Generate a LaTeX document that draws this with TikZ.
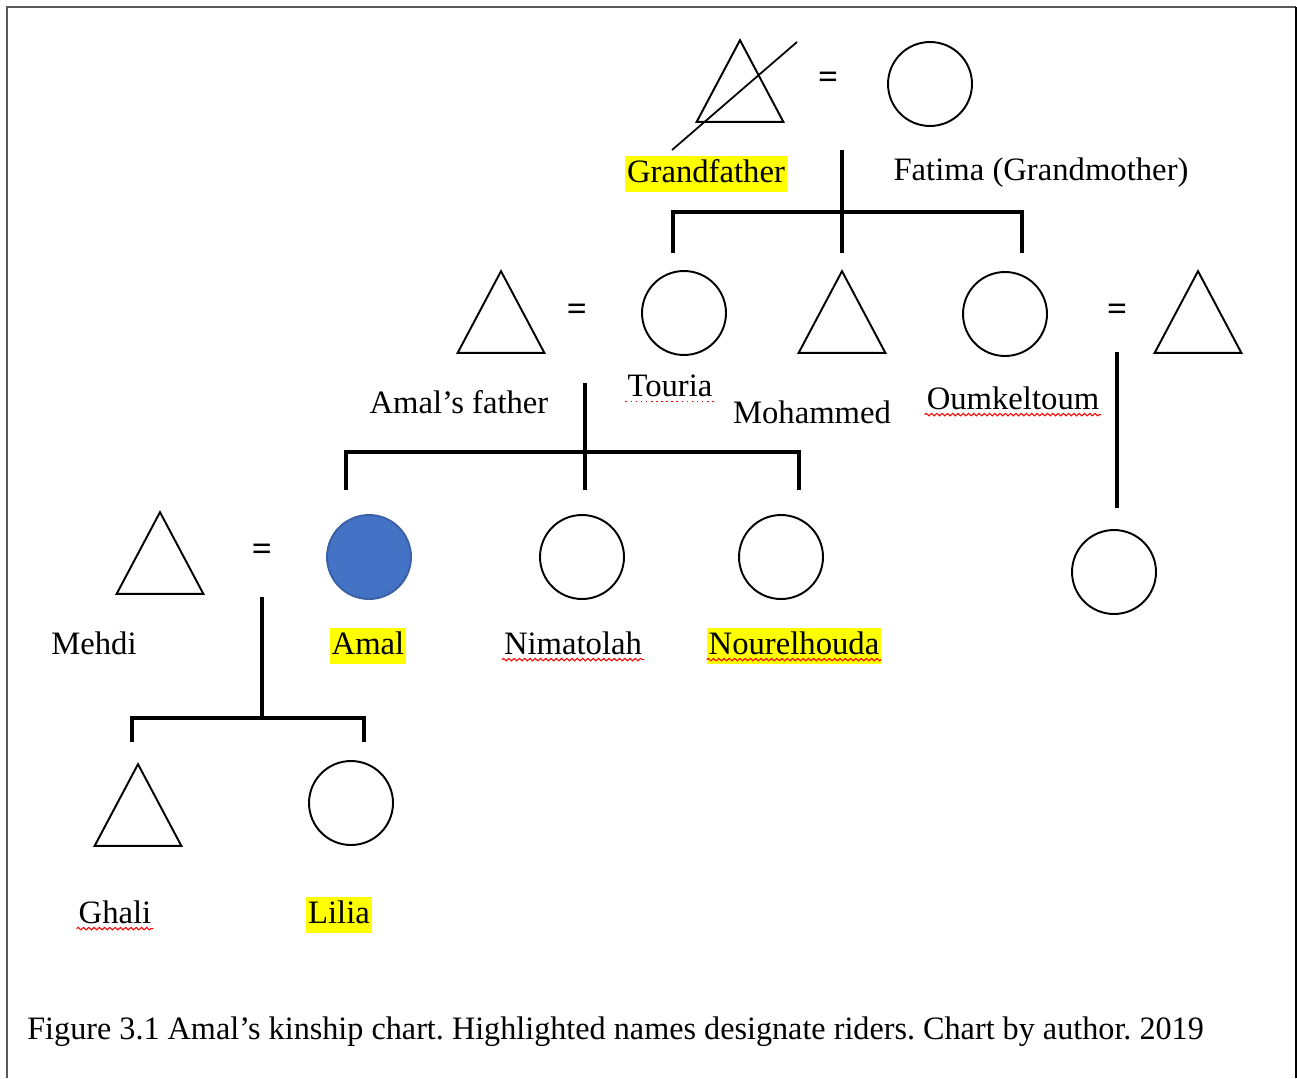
\documentclass[tikz,border=0pt]{standalone}
\usepackage{fontspec}
\setmainfont{Liberation Serif}
\usetikzlibrary{positioning,decorations.pathmorphing}
\definecolor{amalblue}{HTML}{4472C4}
\definecolor{marker}{HTML}{FFFF00}
\definecolor{framegray}{HTML}{595959}
\frenchspacing

\begin{document}
\begin{tikzpicture}[x=0.02cm, y=-0.02cm,
    female/.style={circle, draw, line width=1.1pt, minimum size=1.68cm, inner sep=0pt},
    male/.style={rectangle, minimum width=1.72cm, minimum height=1.62cm, inner sep=0pt},
    lbl/.style={font=\fontsize{18.6}{22}\selectfont, inner xsep=1pt, inner ysep=1.5pt, text height=13.5pt, text depth=4pt},
    rider/.style={lbl, fill=marker},
    eq/.style={font=\fontsize{20}{22}\selectfont\bfseries, inner sep=0pt},
    tie/.style={line width=2.5pt},
    spell/.style={red, line width=0.6pt, decorate, decoration={snake, segment length=3pt, amplitude=0.7pt}}]

    \useasboundingbox (0,0) rectangle (1297,1078);
    \draw[framegray, line width=1.1pt] (7,1078) -- (7,7) -- (1296,7);
    \draw[line width=1.1pt] (1296,7) -- (1296,1078);

    % grandparents
    \node[male] (gf) at (740,81) {};
    \node[eq] (eq1) at (828,80) {=};
    \node[female] (fat) at (930,84) {};
    \node[rider] (gfl) at (706,174) {Grandfather};
    \node[lbl] (fatl) at (1041,172) {Fatima (Grandmother)};

    % second generation
    \node[male] (af) at (501,312) {};
    \node[eq] (eq2) at (577,312) {=};
    \node[female] (tou) at (684,313) {};
    \node[male] (moh) at (842,312) {};
    \node[female] (oum) at (1005,314) {};
    \node[eq] (eq3) at (1117,312) {=};
    \node[male] (ouh) at (1198,312) {};
    \node[lbl] (afl) at (459,405) {Amal’s father};
    \node[lbl] (toul) at (670,388) {Touria};
    \node[lbl] (mohl) at (812,415) {Mohammed};
    \node[lbl] (ouml) at (1013,401) {Oumkeltoum};

    % third generation
    \node[male] (mehdi) at (160,553) {};
    \node[eq] (eq4) at (262,552) {=};
    \node[female, fill=amalblue, draw=amalblue!85!black] (amal) at (369,557) {};
    \node[female] (nim) at (582,557) {};
    \node[female] (nou) at (781,557) {};
    \node[female] (okc) at (1114,572) {};
    \node[lbl] (mehdil) at (94,646) {Mehdi};
    \node[rider] (amall) at (368,646) {Amal};
    \node[lbl] (niml) at (573,646) {Nimatolah};
    \node[rider] (noul) at (794,646) {Nourelhouda};

    % fourth generation
    \node[male] (ghali) at (138,805) {};
    \node[female] (lil) at (351,803) {};
    \node[lbl] (ghalil) at (115,915) {Ghali};
    \node[rider] (lill) at (339,915) {Lilia};

    \foreach \n in {gf,af,moh,ouh,mehdi,ghali}
        \draw[line width=1.1pt] (\n.north) -- (\n.south east) -- (\n.south west) -- cycle;
    \draw[line width=1pt] ([shift={(-68,69)}]gf.center) -- ([shift={(57,-39)}]gf.center);

    % lines of descent
    \coordinate (gp) at (842,150);
    \coordinate (gpbar) at (842,212);
    \coordinate (toudrop) at (673,253);
    \coordinate (mohdrop) at (842,253);
    \coordinate (oumdrop) at (1022,253);
    \draw[tie] (gp) -- (mohdrop);
    \draw[tie] (toudrop) |- (gpbar) -| (oumdrop);

    \coordinate (ap) at (585,383);
    \coordinate (apbar) at (585,452);
    \coordinate (amaldrop) at (346,490);
    \coordinate (nimdrop) at (585,490);
    \coordinate (noudrop) at (799,490);
    \draw[tie] (ap) -- (nimdrop);
    \draw[tie] (amaldrop) |- (apbar) -| (noudrop);

    \coordinate (ok) at (1117,352);
    \coordinate (okdrop) at (1117,508);
    \draw[tie] (ok) -- (okdrop);

    \coordinate (ma) at (262,597);
    \coordinate (mabar) at (262,718);
    \coordinate (ghalidrop) at (132,742);
    \coordinate (lildrop) at (364,742);
    \draw[tie] (ma) -- (mabar);
    \draw[tie] (ghalidrop) |- (mabar) -| (lildrop);

    % spelling marks
    \draw[red, dotted, line width=0.9pt] ([yshift=-3pt]toul.base west) -- ([yshift=-3pt]toul.base east);
    \foreach \n in {ouml,niml,noul,ghalil}
        \draw[spell] ([yshift=-3pt]\n.base west) -- ([yshift=-3pt]\n.base east);

    \node[lbl, anchor=west, inner sep=0pt] (cap) at (27,1031) {\scalebox{0.985}[1]{Figure 3.1 Amal’s kinship chart. Highlighted names designate riders. Chart by author. 2019}};
\end{tikzpicture}
\end{document}
